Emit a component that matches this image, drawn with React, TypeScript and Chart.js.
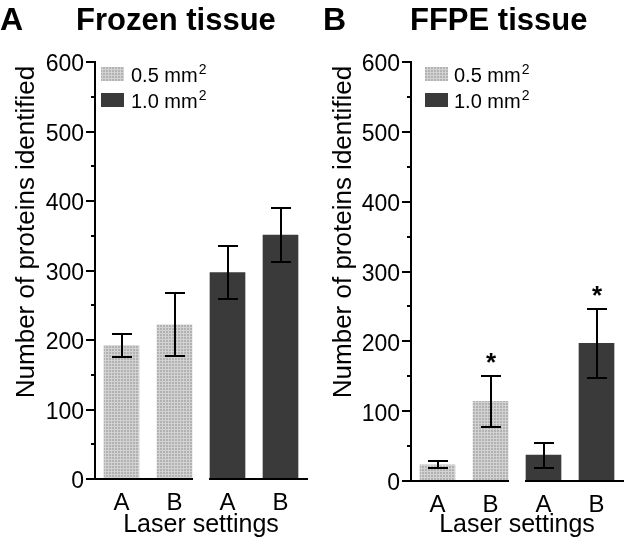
import React, { useEffect, useRef } from "react";
import { Chart, registerables } from "chart.js";

Chart.register(...registerables);

const settingLabels = ["A", "B", "A", "B"];
const sizeLabels = ["0.5 mm", "1.0 mm"];
const frozenMeans = [192, 222, 297, 351];
const frozenSD = [16, 45, 38, 39];
const ffpeMeans = [23, 114, 37, 197];
const ffpeSD = [5, 36, 18, 50];
const ffpeStars = [false, true, false, true];
const frozenStars = [false, false, false, false];
const yTicks = [0, 100, 200, 300, 400, 500, 600];

const FONT = "'Liberation Sans', Arial, Helvetica, sans-serif";
const DARK = "#3a3a3a";

function makePattern(): CanvasPattern | string {
  const c = document.createElement("canvas");
  c.width = 3;
  c.height = 3;
  const g = c.getContext("2d");
  if (!g) return "#c0c0c0";
  g.fillStyle = "#b2b2b2";
  g.fillRect(0, 0, 3, 3);
  g.fillStyle = "#d2d2d2";
  g.fillRect(0, 0, 3, 1);
  g.fillRect(0, 0, 1, 3);
  const p = g.createPattern(c, "repeat");
  return p || "#c0c0c0";
}

type Panel = {
  letter: string;
  title: string;
  means: number[];
  sd: number[];
  stars: boolean[];
  top: number;
  bottom: number;
  letterX: number;
  titleX: number;
  legendX: number;
  legendTextX: number;
  yTitleX: number;
};

const panels: Panel[] = [
  {
    letter: "A",
    title: "Frozen tissue",
    means: frozenMeans,
    sd: frozenSD,
    stars: frozenStars,
    top: 62,
    bottom: 479,
    letterX: 0,
    titleX: 76,
    legendX: 101,
    legendTextX: 131,
    yTitleX: 34,
  },
  {
    letter: "B",
    title: "FFPE tissue",
    means: ffpeMeans,
    sd: ffpeSD,
    stars: ffpeStars,
    top: 62,
    bottom: 481,
    letterX: 7,
    titleX: 94,
    legendX: 109,
    legendTextX: 138,
    yTitleX: 35,
  },
];

function PanelChart({ panel, left }: { panel: Panel; left: number }) {
  const ref = useRef<HTMLCanvasElement | null>(null);
  useEffect(() => {
    const canvas = ref.current;
    if (!canvas) return;
    const pattern = makePattern();
    const colors = [pattern, pattern, DARK, DARK];

    const deco = {
      id: "deco",
      afterDraw(chart: any) {
        const { ctx, chartArea } = chart;
        const y = chart.scales.y;
        const meta = chart.getDatasetMeta(0);
        ctx.save();
        ctx.strokeStyle = "#000";
        ctx.fillStyle = "#000";
        ctx.lineWidth = 2;
        const ax = Math.round(chartArea.left);
        const y0 = y.getPixelForValue(0);
        const yMax = y.getPixelForValue(600);
        // y axis line
        ctx.beginPath();
        ctx.moveTo(ax, yMax - 1);
        ctx.lineTo(ax, y0 + 1);
        ctx.stroke();
        // ticks major + minor
        for (let v = 0; v <= 600; v += 50) {
          const py = Math.round(y.getPixelForValue(v));
          const len = v % 100 === 0 ? 9 : 4;
          ctx.beginPath();
          ctx.moveTo(ax - len, py);
          ctx.lineTo(ax, py);
          ctx.stroke();
        }
        // baseline in two groups
        const bars = meta.data;
        const half = bars[1].width / 2;
        ctx.beginPath();
        ctx.moveTo(ax, y0);
        ctx.lineTo(bars[1].x + half + 1, y0);
        ctx.moveTo(bars[2].x - half - 1, y0);
        ctx.lineTo(chartArea.right + 1, y0);
        ctx.stroke();
        // error bars
        panel.means.forEach((m, i) => {
          const cx = Math.round(bars[i].x);
          const hi = Math.round(y.getPixelForValue(m + panel.sd[i]));
          const lo = Math.round(y.getPixelForValue(m - panel.sd[i]));
          const cw = 10;
          ctx.beginPath();
          ctx.moveTo(cx, hi);
          ctx.lineTo(cx, lo);
          ctx.moveTo(cx - cw, hi);
          ctx.lineTo(cx + cw, hi);
          ctx.moveTo(cx - cw, lo);
          ctx.lineTo(cx + cw, lo);
          ctx.stroke();
          if (panel.stars[i]) {
            ctx.font = `bold 26px ${FONT}`;
            ctx.textAlign = "center";
            ctx.textBaseline = "alphabetic";
            ctx.fillText("*", cx, hi - 5);
          }
        });
        // legend
        const boxes = [
          { y: 67, fill: pattern },
          { y: 93, fill: DARK },
        ];
        boxes.forEach((b, i) => {
          ctx.fillStyle = b.fill as any;
          ctx.fillRect(panel.legendX, b.y, 23, 14);
          ctx.fillStyle = "#000";
          ctx.font = `20px ${FONT}`;
          ctx.textAlign = "left";
          ctx.textBaseline = "alphabetic";
          const base = b.y + 15;
          ctx.fillText(sizeLabels[i], panel.legendTextX, base);
          const w = ctx.measureText(sizeLabels[i]).width;
          ctx.font = `14px ${FONT}`;
          ctx.fillText("2", panel.legendTextX + w + 1, base - 8);
        });
        // titles
        ctx.fillStyle = "#000";
        ctx.textAlign = "left";
        ctx.textBaseline = "alphabetic";
        ctx.font = `bold 32px ${FONT}`;
        ctx.fillText(panel.letter, panel.letterX, 30);
        ctx.font = `bold 31px ${FONT}`;
        ctx.fillText(panel.title, panel.titleX, 30);
        // y title
        ctx.translate(panel.yTitleX, 232);
        ctx.rotate(-Math.PI / 2);
        ctx.font = `26px ${FONT}`;
        ctx.textAlign = "center";
        ctx.fillText("Number of proteins identified", 0, 0);
        ctx.restore();
      },
    };

    const chart = new Chart(canvas, {
      type: "bar",
      data: {
        labels: settingLabels,
        datasets: [
          {
            data: panel.means,
            backgroundColor: colors as any,
            borderWidth: 0,
            barThickness: 35,
          },
        ],
      },
      options: {
        animation: false,
        responsive: false,
        maintainAspectRatio: false,
        devicePixelRatio: 1,
        layout: { padding: { left: 0, right: 2, top: panel.top, bottom: 0 } },
        plugins: {
          legend: { display: false },
          tooltip: { enabled: false },
          title: { display: false },
        },
        scales: {
          x: {
            grid: { display: false, drawTicks: false },
            border: { display: false },
            ticks: { font: { family: FONT, size: 24 }, color: "#000", padding: 10 },
            title: {
              display: true,
              text: "Laser settings",
              font: { family: FONT, size: 25 },
              color: "#000",
              padding: { top: 0, bottom: 4 },
            },
            afterFit: (s: any) => {
              s.height = 544 - panel.bottom;
            },
          },
          y: {
            min: 0,
            max: 600,
            grid: { display: false, drawTicks: false },
            border: { display: false },
            afterBuildTicks: (s: any) => {
              s.ticks = yTicks.map((v) => ({ value: v }));
            },
            ticks: {
              font: { family: FONT, size: 23 },
              color: "#000",
              padding: 11,
              labelOffset: 3,
            },
            afterFit: (s: any) => {
              s.width = 95;
            },
          },
        },
      },
      plugins: [deco],
    });
    return () => chart.destroy();
  }, [panel]);
  return (
    <canvas
      ref={ref}
      width={309}
      height={544}
      style={{ position: "absolute", left, top: 0, width: 309, height: 544 }}
    />
  );
}

export default function App() {
  useEffect(() => {
    document.body.style.margin = "0";
  }, []);
  return (
    <div style={{ position: "relative", width: 625, height: 544, background: "#fff" }}>
      <PanelChart panel={panels[0]} left={0} />
      <PanelChart panel={panels[1]} left={316} />
    </div>
  );
}
